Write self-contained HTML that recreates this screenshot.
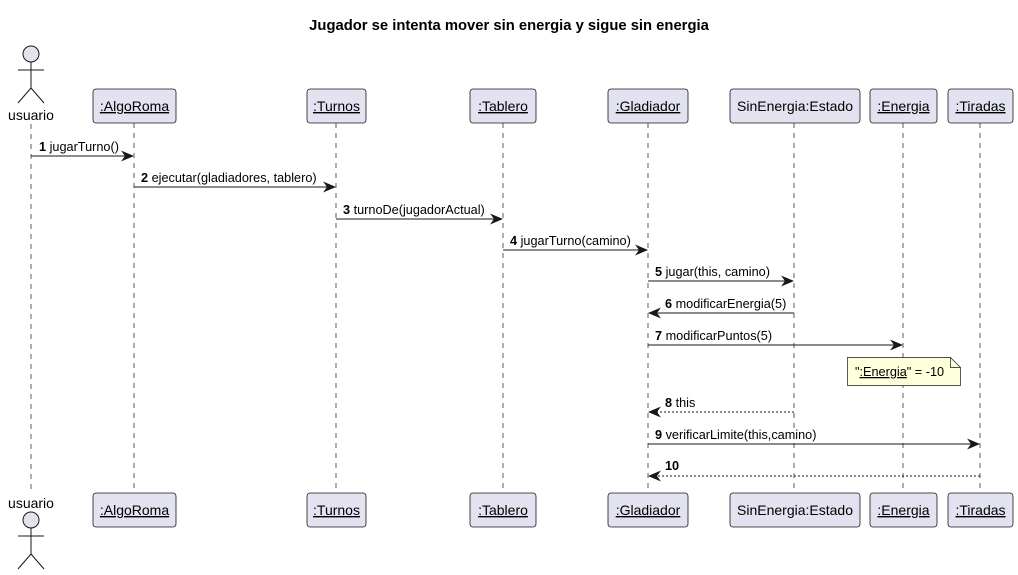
<!DOCTYPE html>
<html><head><meta charset="utf-8"><style>
html,body{margin:0;padding:0;background:#fff;}
svg{display:block;}
text{font-family:"Liberation Sans",sans-serif;fill:#000;}
</style></head><body>
<svg width="1018" height="575" viewBox="0 0 1018 575" xmlns="http://www.w3.org/2000/svg">
<defs>
<marker id="ah" viewBox="0 0 13 11" refX="12" refY="5.5" markerWidth="13" markerHeight="11" markerUnits="userSpaceOnUse" orient="auto">
<path d="M0,0 L13,5.5 L0,11 L4,5.5 Z" fill="#181818"/>
</marker>
</defs>
<text x="509" y="30" text-anchor="middle" font-size="14.8" font-weight="bold">Jugador se intenta mover sin energia y sigue sin energia</text>

<g stroke="#181818" stroke-width="0.7" stroke-dasharray="5,5">
<line x1="31" y1="124" x2="31" y2="493"/>
<line x1="134" y1="123" x2="134" y2="493"/>
<line x1="336" y1="123" x2="336" y2="493"/>
<line x1="503" y1="123" x2="503" y2="493"/>
<line x1="648" y1="123" x2="648" y2="493"/>
<line x1="794" y1="123" x2="794" y2="493"/>
<line x1="903" y1="123" x2="903" y2="493"/>
<line x1="980" y1="123" x2="980" y2="493"/>
</g>

<g stroke="#181818" stroke-width="1" fill="#E2E2F0">
<circle cx="31" cy="54" r="8"/>
<line x1="31" y1="62" x2="31" y2="88" fill="none"/>
<line x1="18" y1="70" x2="44" y2="70"/>
<line x1="31" y1="88" x2="18" y2="103"/>
<line x1="31" y1="88" x2="44" y2="103"/>
<circle cx="31" cy="520" r="8"/>
<line x1="31" y1="528" x2="31" y2="554"/>
<line x1="18" y1="536" x2="44" y2="536"/>
<line x1="31" y1="554" x2="18" y2="569"/>
<line x1="31" y1="554" x2="44" y2="569"/>
</g>
<text x="31" y="120" text-anchor="middle" font-size="14">usuario</text>
<text x="31" y="508" text-anchor="middle" font-size="14">usuario</text>

<g fill="#E2E2F0" stroke="#181818" stroke-width="0.8">
<rect x="93" y="89" width="83" height="34" rx="3"/>
<rect x="307" y="89" width="59" height="34" rx="3"/>
<rect x="470" y="89" width="66" height="34" rx="3"/>
<rect x="608" y="89" width="80" height="34" rx="3"/>
<rect x="730" y="89" width="130" height="34" rx="3"/>
<rect x="870" y="89" width="67" height="34" rx="3"/>
<rect x="948" y="89" width="65" height="34" rx="3"/>
<rect x="93" y="493" width="83" height="34" rx="3"/>
<rect x="307" y="493" width="59" height="34" rx="3"/>
<rect x="470" y="493" width="66" height="34" rx="3"/>
<rect x="608" y="493" width="80" height="34" rx="3"/>
<rect x="730" y="493" width="130" height="34" rx="3"/>
<rect x="870" y="493" width="67" height="34" rx="3"/>
<rect x="948" y="493" width="65" height="34" rx="3"/>
</g>
<g font-size="14" text-anchor="middle">
<text x="134.5" y="111" text-decoration="underline">:AlgoRoma</text>
<text x="336.5" y="111" text-decoration="underline">:Turnos</text>
<text x="503" y="111" text-decoration="underline">:Tablero</text>
<text x="648" y="111" text-decoration="underline">:Gladiador</text>
<text x="795" y="111">SinEnergia:Estado</text>
<text x="903.5" y="111" text-decoration="underline">:Energia</text>
<text x="980.5" y="111" text-decoration="underline">:Tiradas</text>
<text x="134.5" y="515" text-decoration="underline">:AlgoRoma</text>
<text x="336.5" y="515" text-decoration="underline">:Turnos</text>
<text x="503" y="515" text-decoration="underline">:Tablero</text>
<text x="648" y="515" text-decoration="underline">:Gladiador</text>
<text x="795" y="515">SinEnergia:Estado</text>
<text x="903.5" y="515" text-decoration="underline">:Energia</text>
<text x="980.5" y="515" text-decoration="underline">:Tiradas</text>
</g>

<g stroke="#181818" stroke-width="1" fill="none">
<line x1="31" y1="156" x2="133" y2="156" marker-end="url(#ah)"/>
<line x1="134" y1="187" x2="335" y2="187" marker-end="url(#ah)"/>
<line x1="336" y1="219" x2="502" y2="219" marker-end="url(#ah)"/>
<line x1="503" y1="250" x2="647" y2="250" marker-end="url(#ah)"/>
<line x1="648" y1="281" x2="793" y2="281" marker-end="url(#ah)"/>
<line x1="794" y1="313" x2="649" y2="313" marker-end="url(#ah)"/>
<line x1="648" y1="345" x2="902" y2="345" marker-end="url(#ah)"/>
<line x1="794" y1="412" x2="649" y2="412" stroke-dasharray="2,2" marker-end="url(#ah)"/>
<line x1="648" y1="444" x2="979" y2="444" marker-end="url(#ah)"/>
<line x1="980" y1="476" x2="649" y2="476" stroke-dasharray="2,2" marker-end="url(#ah)"/>
</g>
<g font-size="12.7">
<text x="39" y="151"><tspan font-weight="bold">1</tspan> jugarTurno()</text>
<text x="141" y="182"><tspan font-weight="bold">2</tspan> ejecutar(gladiadores, tablero)</text>
<text x="343" y="214"><tspan font-weight="bold">3</tspan> turnoDe(jugadorActual)</text>
<text x="510" y="245"><tspan font-weight="bold">4</tspan> jugarTurno(camino)</text>
<text x="655" y="276"><tspan font-weight="bold">5</tspan> jugar(this, camino)</text>
<text x="665" y="308"><tspan font-weight="bold">6</tspan> modificarEnergia(5)</text>
<text x="655" y="340"><tspan font-weight="bold">7</tspan> modificarPuntos(5)</text>
<text x="665" y="407"><tspan font-weight="bold">8</tspan> this</text>
<text x="655" y="439"><tspan font-weight="bold">9</tspan> verificarLimite(this,camino)</text>
<text x="665" y="470" font-weight="bold">10</text>
</g>

<path d="M847.5,357.5 L950.5,357.5 L960.5,367.5 L960.5,385.5 L847.5,385.5 Z" fill="#FEFFDD" stroke="#181818" stroke-width="0.7"/>
<path d="M950.5,357.5 L950.5,367.5 L960.5,367.5" fill="none" stroke="#181818" stroke-width="0.7"/>
<text x="855" y="376" font-size="12.7">"<tspan text-decoration="underline">:Energia</tspan>" = -10</text>
</svg>
</body></html>
